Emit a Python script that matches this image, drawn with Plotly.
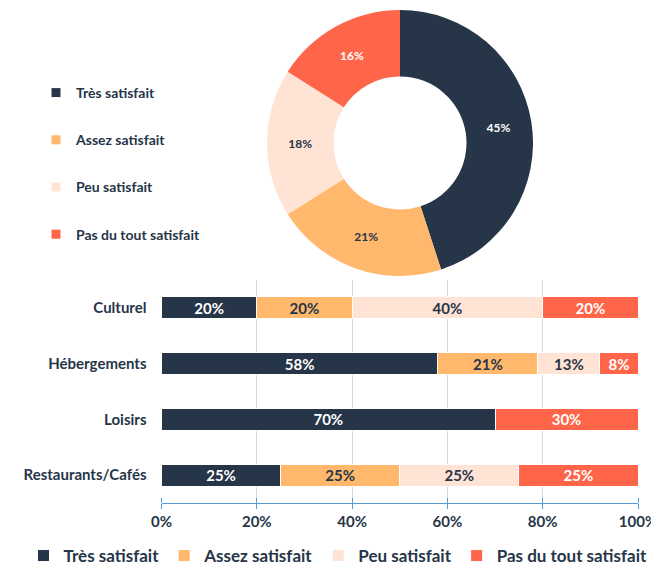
import plotly.graph_objects as go

segments = ["Très satisfait", "Assez satisfait", "Peu satisfait", "Pas du tout satisfait"]
colors = ["#263548", "#FFB86C", "#FFE4D6", "#FF6549"]
label_colors = ["#FFFFFF", "#263548", "#263548", "#FFFFFF"]

pie_values = [45, 21, 18, 16]

categories = ["Culturel", "Hébergements", "Loisirs", "Restaurants/Cafés"]
tres_satisfait = [20, 58, 70, 25]
assez_satisfait = [20, 21, None, 25]
peu_satisfait = [40, 13, None, 25]
pas_satisfait = [20, 8, 30, 25]
bar_series = [tres_satisfait, assez_satisfait, peu_satisfait, pas_satisfait]

tick_vals = [0, 20, 40, 60, 80, 100]
tick_text = ["0%", "20%", "40%", "60%", "80%", "100%"]

FONT = "Lato"
TEXT = "#263548"
AXIS_BLUE = "#5B9BD5"

# the page body adds an 8 px margin around the figure
W, H, OFF = 651, 557, 8


def fx(px):
    return (px - OFF) / W


def fy(py):
    return 1 - (py - OFF) / H


fig = go.Figure()

fig.add_trace(go.Pie(
    values=pie_values, labels=segments, sort=False, direction="clockwise", rotation=0,
    hole=0.5, marker=dict(colors=colors, line=dict(width=0)),
    texttemplate="%{value}%", textposition="inside", insidetextorientation="horizontal",
    textfont=dict(family=FONT, size=12, weight="bold", color=label_colors),
    domain=dict(x=[fx(267), fx(533)], y=[fy(276), fy(10)]),
    showlegend=False, hoverinfo="label+percent",
))

# legend entries for the doughnut (left legend)
for i, (seg, col) in enumerate(zip(segments, colors)):
    fig.add_trace(go.Scatter(
        x=[None], y=[None], mode="markers", name=seg,
        marker=dict(symbol="square", size=9, color=col),
        legend="legend", legendgroup=f"g{i}", showlegend=True, hoverinfo="skip",
    ))

for seg, col, lc, vals in zip(segments, colors, label_colors, bar_series):
    labels = [None if v is None else f"{v}%" for v in vals]
    fig.add_trace(go.Bar(
        y=categories, x=vals, name=seg, orientation="h", text=labels,
        marker=dict(color=col, line=dict(color="#FFFFFF", width=1)),
        texttemplate="%{text}", textposition="inside", insidetextanchor="middle",
        textfont=dict(family=FONT, size=15, weight="bold", color=lc),
        constraintext="none", legend="legend2", hovertemplate="%{y}: %{text}<extra>" + seg + "</extra>",
    ))

fig.update_layout(
    width=W, height=H,
    margin=dict(l=0, r=0, t=0, b=0, pad=0, autoexpand=False),
    paper_bgcolor="white", plot_bgcolor="white",
    barmode="stack", bargap=0.605,
    font=dict(family=FONT, color=TEXT, weight="bold"),
    xaxis=dict(
        domain=[fx(161.5), fx(638)], range=[0, 100], automargin=False,
        tickvals=tick_vals, ticktext=tick_text,
        showgrid=True, gridcolor="#D9D9D9", gridwidth=1, zeroline=False,
        showline=True, linecolor=AXIS_BLUE, linewidth=1,
        ticks="outside", tickcolor=AXIS_BLUE, ticklen=5,
        minor=dict(tickvals=tick_vals, ticks="inside", ticklen=5, tickcolor=AXIS_BLUE, showgrid=False),
        tickfont=dict(family=FONT, size=15, weight="bold", color=TEXT),
    ),
    yaxis=dict(
        type="category", automargin=False,
        domain=[fy(503), fy(280)],
        categoryorder="array", categoryarray=categories, autorange="reversed",
        showgrid=False, zeroline=False, showline=False, ticks="",
        ticklabelstandoff=14,
        tickfont=dict(family=FONT, size=15, weight="bold", color=TEXT),
    ),
    legend=dict(
        x=fx(36), xanchor="left", y=fy(77), yanchor="top",
        traceorder="grouped", tracegroupgap=26,
        font=dict(family=FONT, size=14, weight="bold", color=TEXT),
        bgcolor="rgba(0,0,0,0)",
    ),
    legend2=dict(
        orientation="h", x=fx(338), xanchor="center", y=fy(538), yanchor="top",
        traceorder="normal",
        font=dict(family=FONT, size=17, weight="bold", color=TEXT),
        bgcolor="rgba(0,0,0,0)",
    ),
)

fig.write_html("out.html")
